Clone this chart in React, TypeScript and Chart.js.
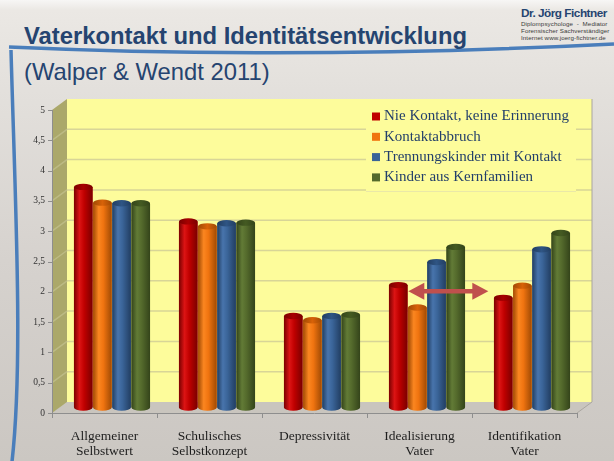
import { useEffect, useRef } from 'react';
import { Chart, registerables } from 'chart.js';
Chart.register(...registerables);

const categories: string[][] = [
  ['Allgemeiner', 'Selbstwert'],
  ['Schulisches', 'Selbstkonzept'],
  ['Depressivität'],
  ['Idealisierung', 'Vater'],
  ['Identifikation', 'Vater'],
];
const seriesNames = [
  'Nie Kontakt, keine Erinnerung',
  'Kontaktabbruch',
  'Trennungskinder mit Kontakt',
  'Kinder aus Kernfamilien',
];
const nieKontakt = [3.64, 3.07, 1.51, 2.02, 1.81];
const kontaktabbruch = [3.38, 2.99, 1.44, 1.65, 2.01];
const trennungskinder = [3.37, 3.04, 1.51, 2.4, 2.61];
const kernfamilien = [3.37, 3.05, 1.53, 2.65, 2.88];
const yTickValues = [0, 0.5, 1, 1.5, 2, 2.5, 3, 3.5, 4, 4.5, 5];
const yTickLabels = ['0', '0,5', '1', '1,5', '2', '2,5', '3', '3,5', '4', '4,5', '5'];
// double arrow annotation (category units, value)
const arrowFrom = { x: 3 - 0.178, y: 1.92 };
const arrowTo = { x: 3 + 0.584, y: 1.92 };

const palette = [
  { base: '#c00000', light: '#dc1414', dark: '#7a0000', top: '#a80000' },
  { base: '#f07410', light: '#fb8620', dark: '#a04a04', top: '#d86208' },
  { base: '#3a6498', light: '#4874ac', dark: '#223e62', top: '#2f5584' },
  { base: '#546a2c', light: '#627b36', dark: '#34441a', top: '#445a22' },
];

const HX = 7.5;
const HY = 5.5;

const decor = {
  id: 'decor',
  beforeDatasetsDraw(chart: any) {
    const { ctx, chartArea, scales } = chart;
    const { left, right, top, bottom } = chartArea;
    const y = scales.y;
    const fL = left - HX, fR = right - HX, fB = bottom + HY, fT = top + HY;
    const bL = left + HX, bR = right + HX, bB = bottom - HY, bT = top - HY;
    ctx.save();
    // floor
    ctx.beginPath();
    ctx.moveTo(fL, fB); ctx.lineTo(fR, fB); ctx.lineTo(bR, bB); ctx.lineTo(bL, bB); ctx.closePath();
    ctx.fillStyle = '#c9c5be';
    ctx.fill();
    // side wall
    ctx.beginPath();
    ctx.moveTo(fL, fB); ctx.lineTo(fL, fT); ctx.lineTo(bL, bT); ctx.lineTo(bL, bB); ctx.closePath();
    ctx.fillStyle = '#aba86a';
    ctx.fill();
    // back wall
    ctx.fillStyle = '#fdfc9b';
    ctx.fillRect(bL, bT, bR - bL, bB - bT);
    // grid lines
    ctx.lineWidth = 1.5;
    for (const v of yTickValues) {
      if (v === 0 || v === 5) continue;
      const py = y.getPixelForValue(v);
      ctx.strokeStyle = 'rgba(200,196,150,0.7)';
      ctx.beginPath(); ctx.moveTo(bL, py - HY); ctx.lineTo(bR, py - HY); ctx.stroke();
      ctx.strokeStyle = 'rgba(200,198,150,0.6)';
      ctx.beginPath(); ctx.moveTo(fL, py + HY); ctx.lineTo(bL, py - HY); ctx.stroke();
    }
    // legend box
    const lx = bR - 226, ly = bT, lw = 210, lh = 92;
    ctx.fillStyle = '#fdfc9b';
    ctx.fillRect(lx, ly, lw, lh);
    ctx.strokeStyle = 'rgba(232,230,170,0.9)';
    ctx.lineWidth = 1;
    ctx.beginPath(); ctx.moveTo(lx, ly + lh + 0.5); ctx.lineTo(lx + lw, ly + lh + 0.5); ctx.stroke();
    ctx.font = '15px "Liberation Serif"';
    ctx.textBaseline = 'middle';
    ctx.textAlign = 'left';
    chart.data.datasets.forEach((ds: any, i: number) => {
      const ry = ly + 17.5 + i * 20.3;
      ctx.fillStyle = palette[i].base;
      ctx.fillRect(lx + 6, ry - 4, 8, 8);
      ctx.fillStyle = '#233f6a';
      ctx.fillText(ds.label, lx + 18, ry);
    });
    // floor edges
    ctx.strokeStyle = '#a9a59f';
    ctx.lineWidth = 1;
    ctx.beginPath(); ctx.moveTo(fR, fB); ctx.lineTo(bR, bB); ctx.lineTo(bR, bT); ctx.stroke();
    // front axes
    ctx.strokeStyle = '#8e8e8e';
    ctx.beginPath(); ctx.moveTo(fL, fB + 0.5); ctx.lineTo(fR, fB + 0.5); ctx.stroke();
    ctx.beginPath(); ctx.moveTo(fL + 0.5, fB); ctx.lineTo(fL + 0.5, fT); ctx.stroke();
    const n = categories.length;
    for (let i = 0; i <= n; i++) {
      const px = Math.round(fL + (i * (right - left)) / n) + 0.5;
      ctx.beginPath(); ctx.moveTo(px, fB); ctx.lineTo(px, fB + 5); ctx.stroke();
    }
    ctx.fillStyle = '#333';
    ctx.font = '9.5px "Liberation Serif"';
    ctx.textAlign = 'right';
    yTickValues.forEach((v, i) => {
      const py = y.getPixelForValue(v) + HY;
      ctx.beginPath(); ctx.moveTo(fL - 4, Math.round(py) + 0.5); ctx.lineTo(fL, Math.round(py) + 0.5); ctx.stroke();
      ctx.fillText(yTickLabels[i], fL - 7, py);
    });
    // category labels
    ctx.fillStyle = '#1e1e1e';
    ctx.font = '13.5px "Liberation Serif"';
    ctx.textAlign = 'center';
    categories.forEach((lines, i) => {
      const px = scales.x.getPixelForValue(i) - HX;
      lines.forEach((t, j) => ctx.fillText(t, px, fB + 23 + j * 15.5));
    });
    ctx.restore();
  },
  afterDatasetsDraw(chart: any) {
    const { ctx, scales } = chart;
    ctx.save();
    chart.data.datasets.forEach((ds: any, di: number) => {
      const meta = chart.getDatasetMeta(di);
      const c = palette[di];
      meta.data.forEach((el: any) => {
        const { x, y, base, width } = el.getProps(['x', 'y', 'base', 'width'], true);
        const l = x - width / 2, r = x + width / 2;
        const rx = width / 2, ry = Math.max(2.5, width * 0.17);
        const g = ctx.createLinearGradient(l, 0, r, 0);
        g.addColorStop(0, c.dark);
        g.addColorStop(0.3, c.light);
        g.addColorStop(0.55, c.base);
        g.addColorStop(1, c.dark);
        ctx.fillStyle = g;
        ctx.beginPath();
        ctx.moveTo(l, y);
        ctx.lineTo(l, base);
        ctx.ellipse(x, base, rx, ry, 0, Math.PI, 0, true);
        ctx.lineTo(r, y);
        ctx.closePath();
        ctx.fill();
        const tg = ctx.createLinearGradient(l, 0, r, 0);
        tg.addColorStop(0, c.dark);
        tg.addColorStop(0.5, c.top);
        tg.addColorStop(1, c.dark);
        ctx.fillStyle = tg;
        ctx.beginPath();
        ctx.ellipse(x, y, rx, ry, 0, 0, Math.PI * 2);
        ctx.fill();
      });
    });
    // arrow
    const cw = scales.x.getPixelForValue(1) - scales.x.getPixelForValue(0);
    const x1 = scales.x.getPixelForValue(3) + (arrowFrom.x - 3) * cw;
    const x2 = scales.x.getPixelForValue(3) + (arrowTo.x - 3) * cw;
    const ay = scales.y.getPixelForValue(arrowFrom.y);
    const hl = 16, hh = 8.5;
    ctx.fillStyle = '#c0504d';
    ctx.strokeStyle = '#c0504d';
    ctx.lineWidth = 4.5;
    ctx.beginPath(); ctx.moveTo(x1 + hl - 2, ay); ctx.lineTo(x2 - hl + 2, ay); ctx.stroke();
    ctx.beginPath(); ctx.moveTo(x1, ay); ctx.lineTo(x1 + hl, ay - hh); ctx.lineTo(x1 + hl, ay + hh); ctx.closePath(); ctx.fill();
    ctx.beginPath(); ctx.moveTo(x2, ay); ctx.lineTo(x2 - hl, ay - hh); ctx.lineTo(x2 - hl, ay + hh); ctx.closePath(); ctx.fill();
    ctx.restore();
  },
};

export default function App() {
  const ref = useRef<HTMLCanvasElement>(null);
  useEffect(() => {
    document.body.style.margin = '0';
    const series = [nieKontakt, kontaktabbruch, trennungskinder, kernfamilien];
    const chart = new Chart(ref.current as HTMLCanvasElement, {
      type: 'bar',
      data: {
        labels: categories.map((c) => c.join(' ')),
        datasets: series.map((s, i) => ({
          label: seriesNames[i],
          data: s,
          backgroundColor: palette[i].base,
          borderWidth: 0,
          categoryPercentage: 0.73,
          barPercentage: 0.97,
        })),
      },
      options: {
        responsive: false,
        animation: false,
        devicePixelRatio: 1,
        layout: { padding: { left: 59.5, right: 29.5, top: 104.5, bottom: 53.5 } },
        scales: {
          x: { display: false },
          y: { display: false, min: 0, max: 5 },
        },
        plugins: { legend: { display: false }, tooltip: { enabled: false } },
      },
      plugins: [decor],
    });
    return () => chart.destroy();
  }, []);

  return (
    <div
      style={{
        position: 'absolute',
        left: 0,
        top: 0,
        width: 614,
        height: 461,
        overflow: 'hidden',
        background:
          'linear-gradient(180deg, #f7f6f5 0px, #ebe8e4 10px, #e3e0dc 90px, #d6d2ce 260px, #cbc7c2 461px)',
      }}
    >
      <svg width={614} height={461} style={{ position: 'absolute', left: 0, top: 0 }}>
        <path d="M 9 47 Q 300 60 614 44" stroke="#4a7ebb" strokeWidth={3.5} fill="none" />
        <path d="M 11 50 C 15 200, 24 370, 11 470" stroke="#4a7ebb" strokeWidth={3.5} fill="none" />
      </svg>
      <div
        style={{
          position: 'absolute',
          left: 24,
          top: 22,
          fontFamily: '"Liberation Sans", Arial, sans-serif',
          fontWeight: 'bold',
          fontSize: 23.8,
          color: '#254470',
          whiteSpace: 'nowrap',
        }}
      >
        Vaterkontakt und Identitätsentwicklung
      </div>
      <div
        style={{
          position: 'absolute',
          left: 24,
          top: 58,
          fontFamily: '"Liberation Sans", Arial, sans-serif',
          fontSize: 23.8,
          color: '#254470',
          whiteSpace: 'nowrap',
        }}
      >
        (Walper &amp; Wendt 2011)
      </div>
      <div
        style={{
          position: 'absolute',
          left: 521,
          top: 7,
          width: 92,
          fontFamily: '"Liberation Sans", Arial, sans-serif',
          color: '#254470',
          whiteSpace: 'nowrap',
        }}
      >
        <div style={{ fontWeight: 'bold', fontSize: 11.8, letterSpacing: -0.5, lineHeight: '13px' }}>Dr. Jörg Fichtner</div>
        <div style={{ fontSize: 6.2, color: '#3a3a3a', lineHeight: '6.8px', marginTop: 1, letterSpacing: 0.1 }}>
          Diplompsychologe&nbsp;&nbsp;-&nbsp;&nbsp;Mediator
          <br />
          Forensischer Sachverständiger
          <br />
          Internet www.joerg-fichtner.de
        </div>
      </div>
      <canvas ref={ref} width={614} height={461} style={{ position: 'absolute', left: 0, top: 0 }} />
    </div>
  );
}
